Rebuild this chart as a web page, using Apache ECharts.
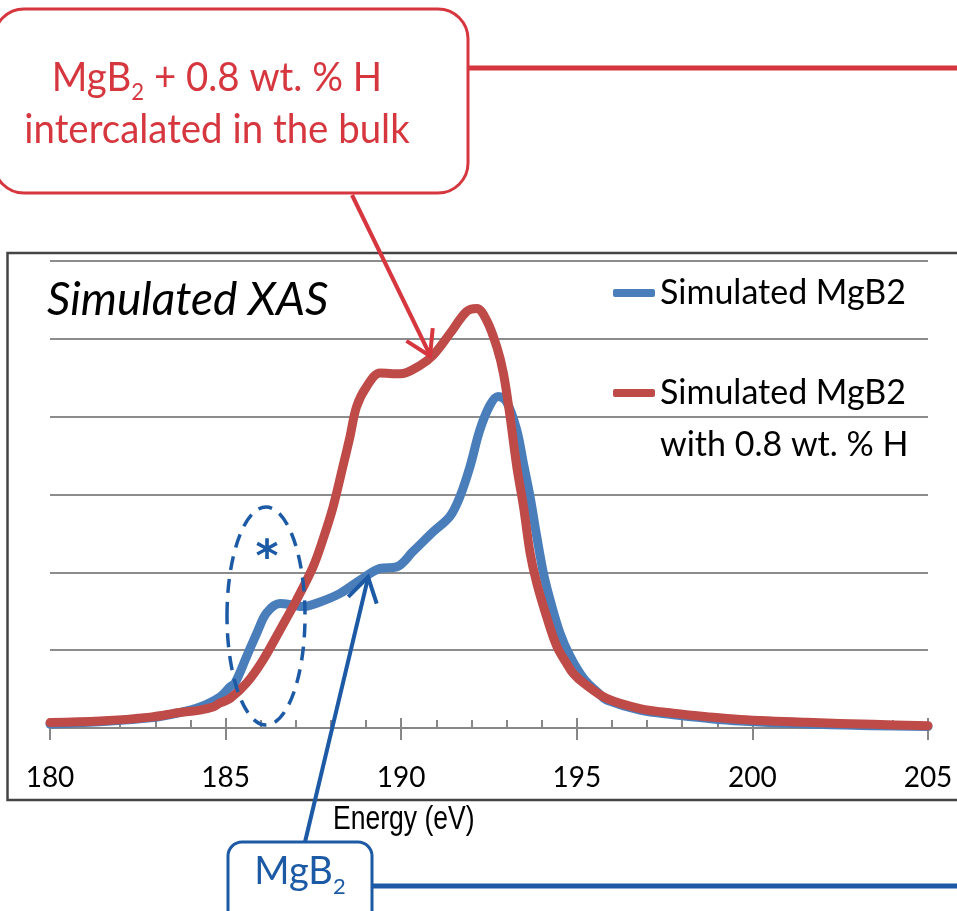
<!DOCTYPE html>
<html><head><meta charset="utf-8">
<script src="https://cdn.jsdelivr.net/npm/echarts@6/dist/echarts.min.js"></script>
<style>html,body{margin:0;padding:0;background:#fff;}#c{width:957px;height:911px;}</style>
</head><body><div id="c"></div>
<script>
// ---- data ----
const xTickValues = [180, 185, 190, 195, 200, 205];
const energyBlue = [180.0,181.4,182.85,183.7,184.27,184.84,185.13,185.27,185.6,185.89,186.17,186.55,186.92,187.2,187.69,188.26,188.83,189.4,189.87,190.34,190.91,191.39,191.67,191.96,192.24,192.53,192.76,193.0,193.29,193.48,193.67,193.86,194.05,194.24,194.52,194.81,195.19,195.66,195.85,196.8,197.75,198.7,199.65,201.55,203.44,205.0];
const intensityBlue = [0.05,0.08,0.13,0.2,0.27,0.4,0.53,0.58,0.92,1.22,1.48,1.6,1.58,1.56,1.62,1.73,1.9,2.05,2.07,2.27,2.52,2.72,2.97,3.36,3.83,4.15,4.26,4.19,3.83,3.4,2.97,2.46,1.99,1.645,1.22,0.92,0.64,0.43,0.36,0.23,0.17,0.125,0.09,0.05,0.03,0.02];
const energyRed = [180.0,181.42,182.85,183.7,184.27,184.64,184.84,185.13,185.6,186.06,186.55,187.02,187.49,187.77,188.06,188.34,188.54,188.73,189.02,189.4,189.97,190.54,190.91,191.39,191.86,192.15,192.43,192.72,192.91,193.1,193.29,193.48,193.67,193.86,194.14,194.43,194.71,194.9,195.19,195.85,196.8,197.75,198.7,199.65,201.55,203.44,205.0];
const intensityRed = [0.07,0.09,0.14,0.2,0.23,0.27,0.32,0.38,0.58,0.87,1.26,1.645,2.07,2.42,2.84,3.36,3.74,4.13,4.39,4.56,4.55,4.66,4.79,5.07,5.35,5.39,5.24,4.9,4.56,4.0,3.36,2.85,2.25,1.86,1.43,1.05,0.83,0.7,0.58,0.38,0.25,0.19,0.145,0.11,0.073,0.047,0.03];
const seriesNames = ['Simulated MgB2', 'Simulated MgB2 with 0.8 wt. % H'];
const titleText = 'Simulated XAS';
const xAxisTitle = 'Energy (eV)';

const blueColor = '#4a7ebb', redColor = '#be4b48';
const annRed = '#d6373f', annBlue = '#1d5aa6';
const CAL = 'Lato, "Open Sans", sans-serif';

function arrowHead(x1, y1, x2, y2, len, ang) {
  const a = Math.atan2(y1 - y2, x1 - x2);
  return [[x2 + len * Math.cos(a + ang), y2 + len * Math.sin(a + ang)], [x2, y2], [x2 + len * Math.cos(a - ang), y2 + len * Math.sin(a - ang)]];
}

const chart = echarts.init(document.getElementById('c'), null, {renderer: 'canvas'});
const pairs = (xs, ys) => xs.map((x, i) => [x, ys[i]]);

chart.setOption({
  animation: false,
  backgroundColor: '#fff',
  grid: {left: 50, right: 29, top: 261, bottom: 183},
  xAxis: [{
    type: 'value', min: xTickValues[0], max: xTickValues[xTickValues.length - 1], interval: 5,
    axisLine: {show: true, lineStyle: {color: '#878787', width: 2}},
    axisTick: {show: true, length: 12, lineStyle: {color: '#878787', width: 2}},
    axisLabel: {color: '#000', fontFamily: CAL, fontSize: 28, margin: 36},
    splitLine: {show: false}
  }, {
    type: 'value', position: 'bottom', min: xTickValues[0], max: xTickValues[xTickValues.length - 1], interval: 5,
    axisLine: {show: false},
    axisTick: {show: true, inside: true, length: 10, lineStyle: {color: '#878787', width: 2}},
    minorTick: {show: true, splitNumber: 5, length: 8, lineStyle: {color: '#878787', width: 2}},
    axisLabel: {show: false}, splitLine: {show: false}
  }],
  yAxis: {
    type: 'value', min: 0, max: 6, interval: 1,
    axisLine: {show: false}, axisTick: {show: false}, axisLabel: {show: false},
    splitLine: {show: true, lineStyle: {color: '#8c8c8c', width: 2}}
  },
  legend: [{
    data: [seriesNames[0]], left: 613, top: 273, padding: 0,
    icon: 'roundRect', itemWidth: 42, itemHeight: 8,
    textStyle: {fontFamily: CAL, fontSize: 34, color: '#000', lineHeight: 40}
  }, {
    data: [seriesNames[1]], left: 613, top: 315, padding: 0,
    icon: 'roundRect', itemWidth: 42, itemHeight: 8,
    formatter: n => '\n' + n.replace(' with', '\nwith'),
    textStyle: {fontFamily: CAL, fontSize: 34, color: '#000', lineHeight: 52}
  }],
  series: [{
    name: seriesNames[0], type: 'line', data: pairs(energyBlue, intensityBlue),
    showSymbol: false, symbol: 'none', smooth: 0.35,
    lineStyle: {color: blueColor, width: 9, cap: 'round', join: 'round'}, itemStyle: {color: blueColor}
  }, {
    name: seriesNames[1], type: 'line', data: pairs(energyRed, intensityRed),
    showSymbol: false, symbol: 'none', smooth: 0.35,
    lineStyle: {color: redColor, width: 9, cap: 'round', join: 'round'}, itemStyle: {color: redColor}
  }],
  graphic: [
    {type: 'rect', shape: {x: 7.5, y: 253, width: 960, height: 547}, style: {fill: 'none', stroke: '#444', lineWidth: 2.5}, z: 1, silent: true},
    {type: 'text', x: 47, y: 300, style: {text: titleText, font: 'italic 46px Lato, "Open Sans", sans-serif', fill: '#000', verticalAlign: 'middle'}},
    {type: 'text', x: 333, y: 820, scaleX: 0.78, style: {text: xAxisTitle, font: '34px "Liberation Sans", Arial, sans-serif', fill: '#000', verticalAlign: 'middle'}},
    // red callout
    {type: 'line', shape: {x1: 468, y1: 68, x2: 960, y2: 68}, style: {stroke: annRed, lineWidth: 5}, z: 50},
    {type: 'rect', shape: {x: -6, y: 9, width: 474, height: 184, r: 30}, style: {fill: '#fff', stroke: annRed, lineWidth: 3}, z: 51},
    {type: 'text', x: 217, y: 104, scaleX: 0.96, z: 52, style: {
      text: '{m|MgB}{s|2}{m| + 0.8 wt. % H}\n{m|intercalated in the bulk}',
      align: 'center', verticalAlign: 'middle', fill: annRed,
      rich: {m: {fontFamily: CAL, fontSize: 40, lineHeight: 52, fill: annRed},
             s: {fontFamily: CAL, fontSize: 23, lineHeight: 24, verticalAlign: 'bottom', fill: annRed}}
    }},
    {type: 'line', shape: {x1: 352, y1: 195, x2: 430, y2: 355}, style: {stroke: annRed, lineWidth: 4}, z: 50},
    {type: 'polyline', shape: {points: arrowHead(352, 195, 430, 356, 28, 0.55)}, style: {stroke: annRed, lineWidth: 4, fill: 'none'}, z: 50},
    // blue callout
    {type: 'line', shape: {x1: 372, y1: 886, x2: 960, y2: 886}, style: {stroke: annBlue, lineWidth: 5}, z: 50},
    {type: 'rect', shape: {x: 228, y: 842, width: 144, height: 90, r: 14}, style: {fill: '#fff', stroke: annBlue, lineWidth: 3}, z: 51},
    {type: 'text', x: 300, y: 872, z: 52, style: {
      text: '{m|MgB}{s|2}', align: 'center', verticalAlign: 'middle', fill: annBlue,
      rich: {m: {fontFamily: CAL, fontSize: 38, lineHeight: 52, fill: annBlue},
             s: {fontFamily: CAL, fontSize: 22, lineHeight: 24, verticalAlign: 'bottom', fill: annBlue}}
    }},
    {type: 'line', shape: {x1: 305, y1: 842, x2: 368, y2: 578}, style: {stroke: annBlue, lineWidth: 4}, z: 50},
    {type: 'polyline', shape: {points: arrowHead(305, 842, 368, 577, 28, 0.55)}, style: {stroke: annBlue, lineWidth: 4, fill: 'none'}, z: 50},
    // dashed ellipse and asterisk
    {type: 'ellipse', shape: {cx: 266, cy: 616, rx: 39, ry: 109}, style: {fill: 'none', stroke: annBlue, lineWidth: 3.5, lineDash: [14, 9]}, z: 50},
    {type: 'text', x: 267, y: 560, z: 50, style: {text: '*', font: 'bold 44px "DejaVu Sans", sans-serif', fill: annBlue, align: 'center', verticalAlign: 'middle'}}
  ]
});
</script></body></html>
